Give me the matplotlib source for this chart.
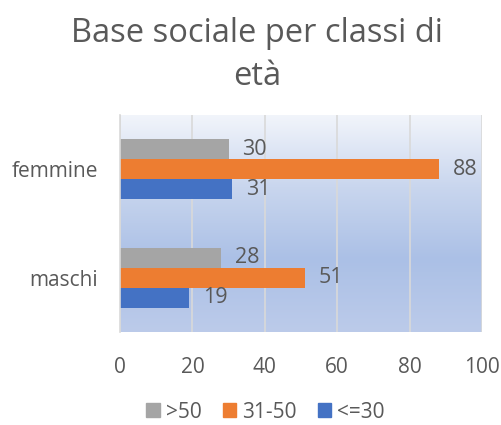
"""Base sociale per classi di età - grouped horizontal bars."""
import numpy as np
import matplotlib
matplotlib.use('Agg')
import matplotlib.pyplot as plt
from matplotlib.patches import Patch
from matplotlib.colors import LinearSegmentedColormap

plt.rcParams['font.family'] = ['Open Sans', 'DejaVu Sans']

categories = ['maschi', 'femmine']
series_names = ['<=30', '31-50', '>50']
values_le30 = [19, 31]
values_31_50 = [51, 88]
values_gt50 = [28, 30]
series_colors = ['#4472C4', '#ED7D31', '#A5A5A5']
x_ticks = [0, 20, 40, 60, 80, 100]

text_col = '#595959'

fig = plt.figure(figsize=(5.01, 4.25), dpi=100)
ax = fig.add_axes([120 / 501, 1 - 332 / 425, 362 / 501, 217 / 425])

# gradient background of the plot area
grad = LinearSegmentedColormap.from_list('bg', ['#f2f5fb', '#c9d6ee', '#abc0e6', '#bccbea'])
ax.imshow(np.linspace(0, 1, 256).reshape(-1, 1), aspect='auto', cmap=grad,
          extent=(0, 1, 0, 1), transform=ax.transAxes, zorder=0)

y = np.arange(len(categories))
h = 0.185
all_vals = [values_le30, values_31_50, values_gt50]
for i, (vals, name, col) in enumerate(zip(all_vals, series_names, series_colors)):
    pos = y + (i - 1) * h
    ax.barh(pos, vals, height=h, color=col, zorder=2, label=name)
    for p, v in zip(pos, vals):
        ax.annotate(str(v), (v, p), xytext=(10, 0), textcoords='offset points',
                    ha='left', va='center', fontsize=15.5, color=text_col)

ax.set_xlim(0, 100)
ax.set_ylim(-0.5, 1.5)
ax.set_xticks(x_ticks)
ax.set_yticks(y)
ax.set_yticklabels(categories)
ax.tick_params(length=0, labelsize=15, labelcolor=text_col)
ax.tick_params(axis='x', pad=18)
ax.tick_params(axis='y', pad=16)
ax.grid(axis='x', color='#d9d9d9', linewidth=1.2, zorder=1)
ax.set_axisbelow(True)
for s in ['top', 'right', 'bottom']:
    ax.spines[s].set_visible(False)
ax.spines['left'].set_color('#d9d9d9')
ax.spines['left'].set_linewidth(1.2)

fig.text(0.513, 0.92, 'Base sociale per classi di', ha='center', va='center',
         fontsize=23.5, color=text_col)
fig.text(0.513, 0.82, 'età', ha='center', va='center', fontsize=23.5, color=text_col)

handles = [Patch(color=c) for c in series_colors[::-1]]
fig.legend(handles, series_names[::-1], loc='center', bbox_to_anchor=(0.53, 0.03),
           ncol=3, frameon=False, fontsize=15, labelcolor=text_col,
           handlelength=0.65, handleheight=0.65, handletextpad=0.3, columnspacing=1.0)

fig.savefig('out.png', dpi=100)
